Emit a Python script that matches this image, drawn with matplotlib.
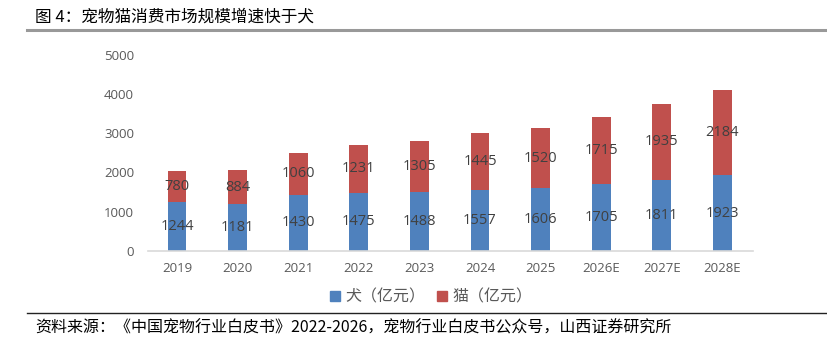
import numpy as np
import matplotlib.pyplot as plt
from matplotlib.lines import Line2D

plt.rcParams['font.family'] = ['Noto Sans CJK SC', 'DejaVu Sans']

years = ['2019', '2020', '2021', '2022', '2023', '2024', '2025', '2026E', '2027E', '2028E']
dog = [1244, 1181, 1430, 1475, 1488, 1557, 1606, 1705, 1811, 1923]
cat = [780, 884, 1060, 1231, 1305, 1445, 1520, 1715, 1935, 2184]

blue = '#4F81BD'
red = '#C0504D'

fig = plt.figure(figsize=(8.28, 3.39), dpi=100)
ax = fig.add_axes([0.1787, 0.2605, 0.7303, 0.5773])

x = np.arange(len(years))
w = 0.31
b1 = ax.bar(x, dog, w, color=blue)
b2 = ax.bar(x, cat, w, bottom=dog, color=red)

for i in range(len(years)):
    ax.text(x[i], dog[i] / 2, str(dog[i]), ha='center', va='center',
            fontsize=10.5, color='#404040', family=['Open Sans', 'DejaVu Sans'])
    ax.text(x[i], dog[i] + cat[i] / 2, str(cat[i]), ha='center', va='center',
            fontsize=10.5, color='#404040', family=['Open Sans', 'DejaVu Sans'])

ax.set_xlim(-0.48, 9.5)
ax.set_ylim(0, 5000)
ax.set_yticks(range(0, 5001, 1000))
ax.set_xticks(x)
ax.set_xticklabels(years)
for s in ['top', 'right', 'left']:
    ax.spines[s].set_visible(False)
ax.spines['bottom'].set_color('#D9D9D9')
ax.spines['bottom'].set_linewidth(1.2)
ax.tick_params(length=0, labelsize=9.5, colors='#595959', pad=8)
ax.tick_params(axis='y', pad=10)
for lab in ax.get_xticklabels() + ax.get_yticklabels():
    lab.set_family(['Open Sans', 'DejaVu Sans'])

handles = [Line2D([], [], marker='s', ls='', color=blue, markersize=7),
           Line2D([], [], marker='s', ls='', color=red, markersize=7)]
fig.legend(handles, ['犬（亿元）', '猫（亿元）'], loc='center', bbox_to_anchor=(0.52, 0.124),
           ncol=2, frameon=False, fontsize=11.5, labelcolor='#595959',
           handlelength=0.8, handletextpad=0.3, columnspacing=0.6)

fig.text(0.042, 0.95, '图 4：宠物猫消费市场规模增速快于犬', fontsize=12, color='black',
         va='center', ha='left')
fig.add_artist(Line2D([0.033, 1.0], [0.912, 0.912], color='#999999', lw=2.2))
fig.add_artist(Line2D([0.033, 1.0], [0.076, 0.076], color='#222222', lw=1))
fig.text(0.042, 0.006, '资料来源：《中国宠物行业白皮书》2022-2026，宠物行业白皮书公众号，山西证券研究所',
         fontsize=11.5, color='black', va='bottom', ha='left')

fig.savefig('out.png', dpi=100)
